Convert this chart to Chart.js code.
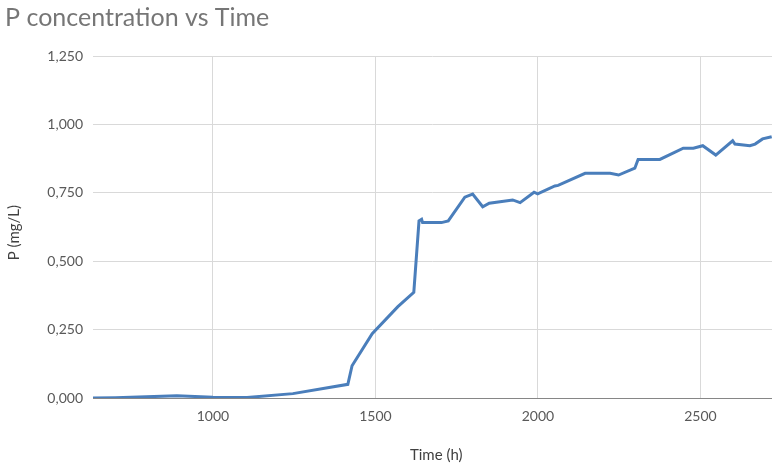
<!DOCTYPE html>
<html>
<head>
<meta charset="utf-8">
<script src="https://cdn.jsdelivr.net/npm/chart.js@4.4.1/dist/chart.umd.min.js"></script>
<style>
  html, body { margin: 0; padding: 0; background: #ffffff; }
  #wrap { width: 772px; height: 464px; position: relative; }
</style>
</head>
<body>
<div id="wrap"><canvas id="c" width="772" height="464"></canvas></div>
<script>
// Time (h)
const times = [631, 700, 889, 1000, 1105, 1246, 1415, 1428, 1490, 1569, 1618, 1634, 1642, 1645, 1703, 1724, 1775, 1799, 1830, 1850, 1922, 1945, 1988, 1999, 2052, 2062, 2145, 2222, 2248, 2298, 2308, 2375, 2447, 2478, 2507, 2547, 2599, 2606, 2652, 2668, 2691, 2719];
// P (mg/L)
const pValues = [0.000, 0.001, 0.008, 0.003, 0.002, 0.016, 0.050, 0.118, 0.235, 0.334, 0.386, 0.647, 0.653, 0.641, 0.641, 0.647, 0.734, 0.745, 0.699, 0.712, 0.724, 0.714, 0.752, 0.746, 0.775, 0.777, 0.821, 0.821, 0.815, 0.840, 0.872, 0.872, 0.913, 0.913, 0.922, 0.888, 0.940, 0.928, 0.922, 0.928, 0.947, 0.955];
const xTicks = [1000, 1500, 2000, 2500];
const yTicks = [0, 0.25, 0.5, 0.75, 1.0, 1.25];
const xRange = [631, 2720];

const points = times.map((t, i) => ({ x: t, y: pValues[i] }));
const FONT = "Lato, 'Open Sans', sans-serif";

new Chart(document.getElementById('c'), {
  type: 'line',
  data: {
    datasets: [{
      data: points,
      borderColor: '#4a7ebb',
      borderWidth: 3,
      pointRadius: 0,
      tension: 0,
      fill: false
    }]
  },
  options: {
    responsive: false,
    animation: false,
    layout: { padding: { left: 5, right: 0, top: 3, bottom: 0 } },
    plugins: {
      legend: { display: false },
      tooltip: { enabled: false },
      title: {
        display: true,
        text: 'P concentration vs Time',
        align: 'start',
        color: '#767676',
        font: { family: FONT, size: 25, weight: 'normal', lineHeight: 1.2 },
        padding: { top: 0, bottom: 23 }
      }
    },
    scales: {
      x: {
        type: 'linear',
        min: xRange[0],
        max: xRange[1],
        afterBuildTicks: (axis) => { axis.ticks = xTicks.map(v => ({ value: v })); },
        afterFit: (scale) => { scale.height = 66; },
        grid: { color: '#d9d9d9', lineWidth: 1, drawTicks: false },
        border: { display: true, color: '#868686', width: 1 },
        ticks: {
          color: '#595959',
          padding: 10,
          maxRotation: 0,
          autoSkip: false,
          font: { family: FONT, size: 14 },
          callback: (v) => String(v)
        },
        title: {
          display: true,
          text: '\u2002Time (h)',
          color: '#404040',
          font: { family: FONT, size: 15 },
          padding: { top: 0, bottom: 0 }
        }
      },
      y: {
        type: 'linear',
        min: yTicks[0],
        max: yTicks[yTicks.length - 1],
        afterBuildTicks: (axis) => { axis.ticks = yTicks.map(v => ({ value: v })); },
        afterFit: (scale) => { scale.width = 88; },
        grid: { color: '#d9d9d9', lineWidth: 1, drawTicks: false },
        border: { display: false },
        ticks: {
          color: '#595959',
          padding: 10,
          font: { family: FONT, size: 14 },
          callback: (v) => Number(v).toFixed(3).replace('.', ',')
        },
        title: {
          display: true,
          text: 'P (mg/L)\u2003',
          color: '#404040',
          font: { family: FONT, size: 15 },
          padding: { top: 0, bottom: 0 }
        }
      }
    }
  }
});
</script>
</body>
</html>
